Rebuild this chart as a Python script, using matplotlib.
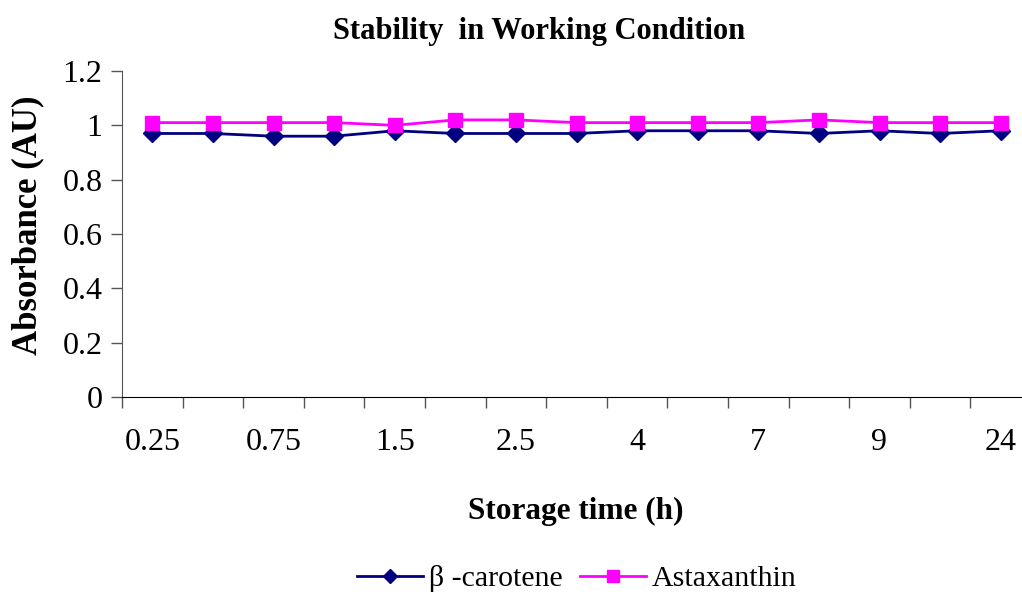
import matplotlib
matplotlib.use("Agg")
import matplotlib.pyplot as plt
import numpy as np

plt.rcParams['font.family'] = ['Liberation Serif', 'DejaVu Serif']

# storage times (h) and absorbance readings
times = ["0.25", "0.5", "0.75", "1", "1.5", "2", "2.5", "3", "4", "5", "7", "8", "9", "12", "24"]
beta_carotene = [0.97, 0.97, 0.96, 0.96, 0.98, 0.97, 0.97, 0.97, 0.98, 0.98, 0.98, 0.97, 0.98, 0.97, 0.98]
astaxanthin = [1.01, 1.01, 1.01, 1.01, 1.00, 1.02, 1.02, 1.01, 1.01, 1.01, 1.01, 1.02, 1.01, 1.01, 1.01]
yticks = [0, 0.2, 0.4, 0.6, 0.8, 1, 1.2]

W, H = 1022, 596
fig = plt.figure(figsize=(W / 100, H / 100), dpi=100)
# plot area runs past the right edge of the figure
left, right, top, bottom = 122, 1031, 71, 397
ax = fig.add_axes([left / W, 1 - bottom / H, (right - left) / W, (bottom - top) / H])

x = np.arange(len(times))
ax.plot(x, beta_carotene, color='#000080', lw=2, marker='D', ms=9,
        label='\u03b2 -carotene')
ax.plot(x, astaxanthin, color='#FF00FF', lw=2, marker='s', ms=10,
        label='Astaxanthin')

ax.set_xlim(-0.5, len(times) - 0.5)
ax.set_ylim(0, 1.2)
ax.set_yticks(yticks)
ax.set_yticklabels(['0', '0.2', '0.4', '0.6', '0.8', '1', '1.2'], fontsize=23)

# category ticks sit on the boundaries; labels on every other category centre
ax.set_xticks(np.arange(len(times) + 1) - 0.5)
ax.set_xticklabels([])
ax.set_xticks(x[::2], minor=True)
ax.set_xticklabels(times[::2], minor=True, fontsize=23)
ax.tick_params(axis='x', which='major', direction='out', length=8, width=1, color='#555555')
ax.tick_params(axis='x', which='minor', length=0, pad=22)
ax.tick_params(axis='y', direction='out', length=8, width=1, color='#555555', pad=6)

for s in ['top', 'right']:
    ax.spines[s].set_visible(False)
ax.spines['left'].set_color('#555555')
ax.spines['bottom'].set_color('black')

fig.text(539 / W, 1 - 32 / H, 'Stability  in Working Condition', ha='center', va='center',
         fontsize=22, fontweight='bold')
fig.text(576 / W, 1 - 511 / H, 'Storage time (h)', ha='center', va='center',
         fontsize=22.5, fontweight='bold')
fig.text(28 / W, 1 - 225 / H, 'Absorbance (AU)', ha='center', va='center',
         rotation=90, fontsize=25, fontweight='bold')

fig.legend(loc='center', bbox_to_anchor=(577 / W, 1 - 579 / H), ncol=2, frameon=False,
           fontsize=21.5, handlelength=2.2, handletextpad=0.2, columnspacing=0.6,
           markerscale=0.8)

fig.savefig('out.png', dpi=100)
